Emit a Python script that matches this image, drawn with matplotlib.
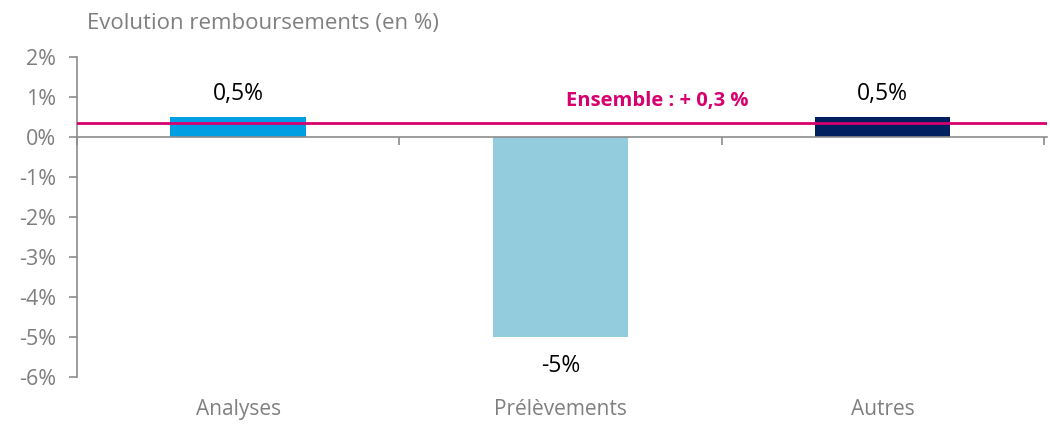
import numpy as np
import matplotlib.pyplot as plt

plt.rcParams['font.family'] = ['Open Sans', 'DejaVu Sans']

categories = ["Analyses", "Prélèvements", "Autres"]
values = [0.5, -5.0, 0.5]
value_labels = ["0,5%", "-5%", "0,5%"]
colors = ["#009FE3", "#93CDDD", "#002060"]
ensemble = 0.35
ensemble_label = "Ensemble : + 0,3 %"
yticks = [2, 1, 0, -1, -2, -3, -4, -5, -6]

gray = "#7F7F7F"
axis_gray = "#8C8C8C"
magenta = "#D6006E"

fig = plt.figure(figsize=(10.5, 4.24), dpi=100)
ax = fig.add_axes([0.0733, 0.1108, 0.924, 0.7548])

x = np.arange(len(categories))
ax.bar(x, values, width=0.42, color=colors, zorder=2)
ax.axhline(ensemble, color=magenta, lw=2, zorder=3)

for i, (v, lab) in enumerate(zip(values, value_labels)):
    if v >= 0:
        ax.annotate(lab, (i, v), xytext=(0, 8), textcoords="offset points",
                    ha="center", va="bottom", fontsize=16.5, color="black")
    else:
        ax.annotate(lab, (i, v), xytext=(0, -12), textcoords="offset points",
                    ha="center", va="top", fontsize=16.5, color="black")

ax.text(1.30, 0.9, ensemble_label, ha="center", va="center", fontsize=14.5,
        fontweight="bold", color=magenta)

# category labels below the plot
for i, c in enumerate(categories):
    ax.annotate(c, (i, -6), xytext=(0, -16), textcoords="offset points",
                ha="center", va="top", fontsize=15, color=gray)

ax.set_xlim(-0.5, 2.51)
ax.set_ylim(-6, 2)
ax.set_yticks(yticks)
ax.set_yticklabels([f"{t}%" for t in yticks])
ax.set_xticks([-0.5, 0.5, 1.5, 2.5])
ax.set_xticklabels([])

ax.spines['bottom'].set_position(('data', 0))
ax.spines['top'].set_visible(False)
ax.spines['right'].set_visible(False)
for s in ['left', 'bottom']:
    ax.spines[s].set_color(axis_gray)
    ax.spines[s].set_linewidth(1.2)
ax.tick_params(axis='y', colors=axis_gray, labelcolor=gray, labelsize=15.5,
               length=6, width=1.2, pad=9)
ax.tick_params(axis='x', colors=axis_gray, length=6, width=1.2, direction='out')

fig.text(0.083, 0.945, "Evolution remboursements (en %)", ha="left", va="center",
         fontsize=16, color=gray)

fig.savefig("out.png", dpi=100)
